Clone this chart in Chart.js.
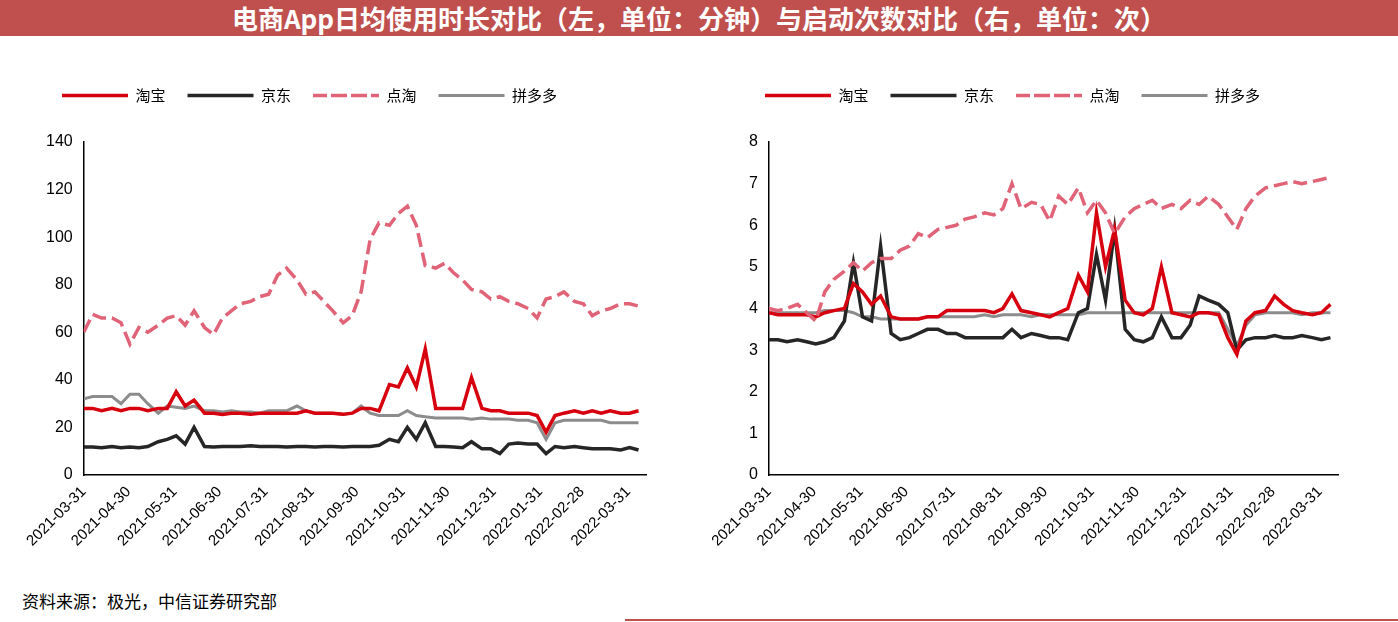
<!DOCTYPE html>
<html><head><meta charset="utf-8">
<script src="https://cdn.jsdelivr.net/npm/chart.js@4.4.0/dist/chart.umd.min.js"></script>
<style>
body{margin:0;width:1398px;height:622px;background:#fff;font-family:"Noto Sans CJK SC",sans-serif;position:relative;overflow:hidden}
#title{position:absolute;left:0;top:0;width:1398px;height:36px;background:#c0504d;color:#fff;font-size:26px;font-weight:bold;text-align:center;line-height:36px}
#src{position:absolute;left:22px;top:588px;font-size:17px;color:#000}
#bar{position:absolute;left:625px;top:619px;width:773px;height:2px;background:#c0504d}
.box{position:absolute;top:66px;height:487px}
</style></head><body>
<div id="title">电商App日均使用时长对比（左，单位：分钟）与启动次数对比（右，单位：次）</div>
<div class="box" style="left:0;width:690px"><canvas id="c1"></canvas></div>
<div class="box" style="left:690px;width:708px"><canvas id="c2"></canvas></div>
<div id="src">资料来源：极光，中信证券研究部</div>
<div id="bar"></div>
<script>
// day offset from 2021-03-31
const days = [0,6,12,19,25,31,37,43,50,56,62,68,74,81,87,93,99,105,112,118,124,130,136,143,149,155,161,167,174,180,186,192,198,205,211,217,223,229,236,242,248,254,260,267,273,279,285,291,298,304,310,316,322,329,335,341,347,353,360,366,372];
const tickDays = [0,30,61,91,122,153,183,214,244,275,306,334,365];
const tickLabels = ["2021-03-31","2021-04-30","2021-05-31","2021-06-30","2021-07-31","2021-08-31","2021-09-30","2021-10-31","2021-11-30","2021-12-31","2022-01-31","2022-02-28","2022-03-31"];
const names = ["淘宝","京东","点淘","拼多多"];

// usage minutes (left)
const tbMin = [28,28,27,28,27,28,28,27,28,28,35,29,31.5,26,26,25.5,26,26,25.5,26,26,26,26,26,27,26,26,26,25.5,26,28,28,27,38,37,45,37,53,28,28,28,28,41,28,27,27,26,26,26,25,18,25,26,27,26,27,26,27,26,26,27];
const jdMin = [11.8,11.8,11.5,12,11.5,11.8,11.5,12,14,15,16.5,13,20,12,11.8,12,12,12,12.3,12,12,12,11.8,12,12,11.8,12,12,11.8,12,12,12,12.5,15,14,20,15,22,12,12,11.8,11.5,14,11,11,9,13,13.5,13,13,9,12,11.5,12,11.5,11,11,11,10.5,11.5,10.5];
const dtMin = [60,67.5,66,66,64,55,62,60,63,66,67,63,69,62,59,66,69,72,73,75,76,84,87,82,76,77,73,69,64,67,77,99,106,105,110,113,105,88,87,89,85,82,78,77,74,75,73,72,70,66,74,75,77,73,72,67,69,70,72,72,71];
const pddMin = [32,33,33,33,30,34,34,30,26,29,28.5,28,29,27,27,26.5,27,26.5,26.5,26,27,27,27,29,27,26,26,26,25.5,26,29,26,25,25,25,27,25,24.5,24,24,24,24,23.5,24,23.5,23.5,23.5,23,23,22,15,22,23,23,23,23,23,22,22,22,22];

// launches per day (right)
const tbCnt = [3.9,3.85,3.85,3.85,3.85,3.8,3.9,3.95,4,4.6,4.4,4.1,4.3,3.8,3.75,3.75,3.75,3.8,3.8,3.95,3.95,3.95,3.95,3.95,3.9,4,4.35,3.95,3.9,3.85,3.8,3.9,4,4.8,4.4,6.3,5,5.9,4.2,3.9,3.85,4,5,3.9,3.85,3.8,3.9,3.9,3.85,3.3,2.9,3.7,3.9,3.95,4.3,4.1,3.95,3.9,3.85,3.9,4.1];
const jdCnt = [3.25,3.25,3.2,3.25,3.2,3.15,3.2,3.3,3.7,5.1,3.8,3.7,5.5,3.4,3.25,3.3,3.4,3.5,3.5,3.4,3.4,3.3,3.3,3.3,3.3,3.3,3.5,3.3,3.4,3.35,3.3,3.3,3.25,3.9,4,5.3,4.2,5.9,3.5,3.25,3.2,3.3,3.8,3.3,3.3,3.6,4.3,4.2,4.1,3.9,3,3.25,3.3,3.3,3.35,3.3,3.3,3.35,3.3,3.25,3.3];
const dtCnt = [4,3.95,4,4.1,3.9,3.7,4.4,4.7,4.9,5.1,4.9,5.1,5.2,5.2,5.4,5.5,5.8,5.7,5.9,5.95,6,6.15,6.2,6.3,6.25,6.4,7,6.4,6.55,6.5,6.1,6.7,6.5,6.9,6.3,6.6,6.3,5.8,6.2,6.4,6.5,6.6,6.4,6.5,6.4,6.6,6.5,6.7,6.5,6.2,5.9,6.4,6.7,6.9,6.95,7,7.05,7,7.05,7.1,7.15];
const pddCnt = [3.9,3.9,3.9,3.9,3.9,3.9,3.95,3.95,3.95,3.9,3.8,3.8,3.75,3.75,3.75,3.75,3.75,3.8,3.8,3.8,3.8,3.8,3.8,3.85,3.8,3.85,3.85,3.85,3.8,3.85,3.85,3.85,3.85,3.85,3.9,3.9,3.9,3.9,3.9,3.9,3.9,3.9,3.9,3.9,3.9,3.9,3.9,3.9,3.9,3.5,3.1,3.6,3.85,3.9,3.9,3.9,3.9,3.85,3.9,3.9,3.9];

const colors = ["#d7000f","#262626","#e06377","#8c8c8c"];
const pts = arr => arr.map((v, i) => ({x: days[i], y: v}));

// extra gap under the legend
Chart.register({id: "legendSpace", beforeInit(chart) {
  const orig = chart.legend.fit;
  chart.legend.fit = function () { orig.bind(chart.legend)(); this.height += 29; };
}});

function make(id, series, yMax, step, padL, padR) {
  const ds = series.map((s, i) => ({
    label: names[i], data: pts(s), borderColor: colors[i], backgroundColor: colors[i],
    borderWidth: i === 3 ? 3 : 3.5, borderDash: i === 2 ? [14, 6] : [], pointRadius: 0, tension: 0
  }));
  // draw order: pdd behind, then jd, taobao, diantao on top
  ds[0].order = 2; ds[1].order = 3; ds[2].order = 1; ds[3].order = 4;
  new Chart(document.getElementById(id), {
    type: "line",
    data: {datasets: ds},
    options: {
      animation: false, responsive: true, maintainAspectRatio: false,
      layout: {padding: {left: padL, right: padR, top: 0, bottom: 0}},
      plugins: {
        tooltip: {enabled: false},
        legend: {position: "top", align: "start",
          labels: {boxWidth: 66, boxHeight: 0, font: {size: 15, family: "Noto Sans CJK SC"}, color: "#000", padding: 22,
            sort: (a, b) => a.datasetIndex - b.datasetIndex}}
      },
      scales: {
        x: {type: "linear", min: 0, max: 377,
          grid: {display: false, tickLength: 5, tickColor: "#000"},
          border: {color: "#000", width: 1.5},
          afterBuildTicks: ax => { ax.ticks = tickDays.map(v => ({value: v})); },
          ticks: {autoSkip: false, maxRotation: 45, minRotation: 45, color: "#000", font: {size: 15},
            callback: v => tickLabels[tickDays.indexOf(v)]}},
        y: {min: 0, max: yMax,
          grid: {display: false, tickLength: 5, tickColor: "#000"},
          border: {color: "#000", width: 1.5},
          ticks: {stepSize: step, color: "#000", font: {size: 16}, padding: 6}}
      }
    }
  });
}
make("c1", [tbMin, jdMin, dtMin, pddMin], 140, 20, 40, 44);
make("c2", [tbCnt, jdCnt, dtCnt, pddCnt], 8, 1, 53, 60);
</script>
</body></html>
